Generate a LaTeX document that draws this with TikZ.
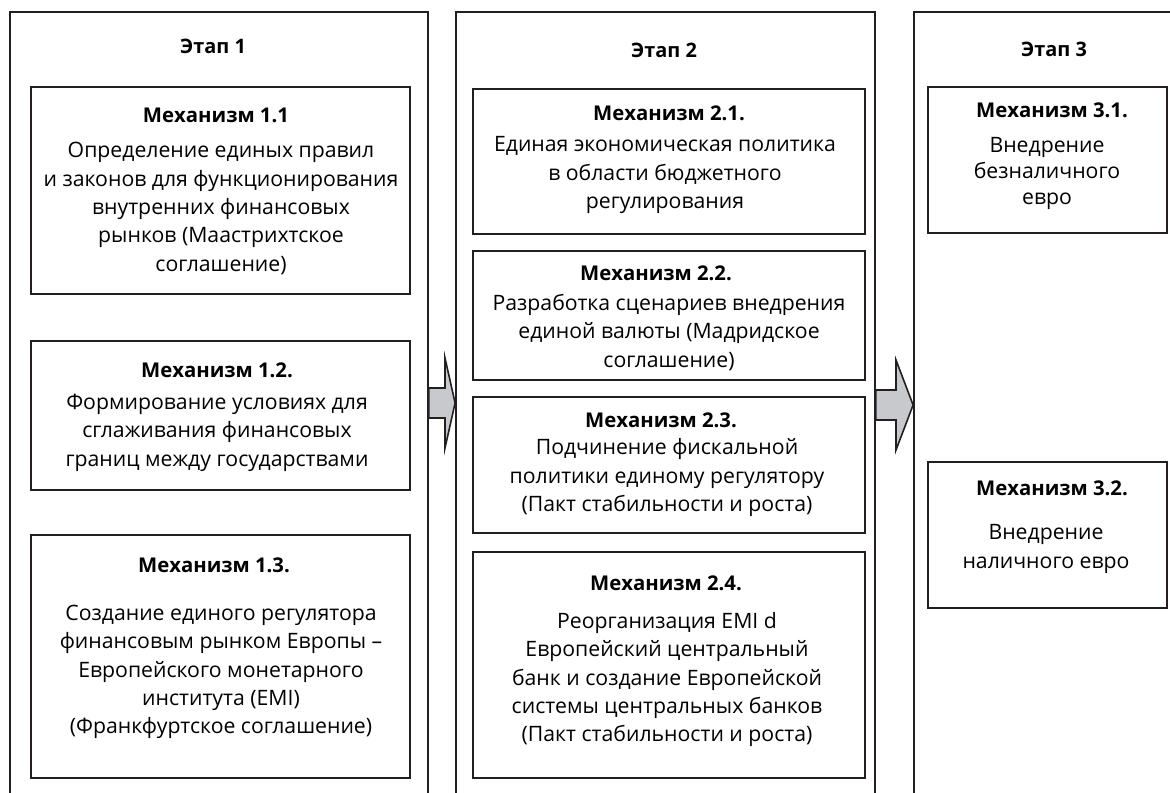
\documentclass[tikz,border=0pt]{standalone}
\usepackage{fontspec}
\setmainfont{Open Sans}
\usetikzlibrary{positioning,shadows}
\definecolor{arrowgray}{RGB}{200,201,204}
\definecolor{shadowgray}{RGB}{150,150,150}
\definecolor{linegray}{RGB}{35,31,32}

\newcommand{\diagfont}{\fontsize{21.3}{28.5}\selectfont}

\tikzset{
  stagebox/.style={draw=linegray, line width=1.8bp, inner sep=0pt},
  mechbox/.style={draw=linegray, line width=1.5bp, fill=white, inner sep=0pt,
    drop shadow={shadow xshift=0.8bp, shadow yshift=-1.2bp,
                 fill=shadowgray, opacity=0.8}},
  stagetitle/.style={font=\fontsize{20}{24}\selectfont\bfseries},
  mechtitle/.style={font=\fontsize{20.4}{24}\selectfont\bfseries},
  mechtext/.style={align=center, inner sep=0pt},
  stagearrow/.style={draw=linegray, line width=1.6bp, fill=arrowgray,
    line join=miter}
}

% block arrow: from stage, to stage, head base x, mid y
\newcommand{\stagearrow}[4]{%
  \pgfmathsetmacro{\ya}{#4-45}\pgfmathsetmacro{\yb}{#4-15}%
  \pgfmathsetmacro{\yc}{#4+15}\pgfmathsetmacro{\yd}{#4+45}%
  \draw[stagearrow] (#1.east |- 0,\yb) -- (#3,\yb) -- (#3,\ya)
    -- (#2.west |- 0,#4) -- (#3,\yd) -- (#3,\yc)
    -- (#1.east |- 0,\yc) -- cycle;
}

\begin{document}
\begin{tikzpicture}[x=1bp, y=-1bp, font=\diagfont]
  \clip (0,0) rectangle (1170,793);
  \fill[white] (0,0) rectangle (1170,793);

  % stage frames
  \node[stagebox, minimum width=418bp, minimum height=798bp] (stage1) at (219,411) {};
  \node[stagebox, minimum width=419bp, minimum height=798bp] (stage2) at (665.5,411) {};
  \node[stagebox, minimum width=280bp, minimum height=798bp] (stage3) at (1054,411) {};

  \node[stagetitle] (st1) at (213,46) {Этап 1};
  \node[stagetitle] (st2) at (664,50) {Этап 2};
  \node[stagetitle] (st3) at (1054,49) {Этап 3};

  % mechanism boxes
  \foreach \nm/\cx/\cy/\w/\h in {m11/220.5/190.5/379/207, m12/220.5/415.5/379/149,
      m13/220.5/656.5/379/243, m21/669/161.5/392/145, m22/669/315.5/392/129,
      m23/669/465/392/136, m24/669/665/392/226, m31/1047.5/160/239/146,
      m32/1047.5/535/239/146}{
    \node[mechbox, minimum width=\w bp, minimum height=\h bp] (\nm) at (\cx,\cy) {};
  }

  % titles
  \foreach \nm/\x/\y/\t in {t11/216/115/1.1, t12/217/370/1.2., t13/214/565/1.3.,
      t21/669/113/2.1., t22/656/273/2.2., t23/661/420/2.3., t24/666/583/2.4.,
      t31/1052/110/3.1., t32/1052/488/3.2.}{
    \node[mechtitle] (\nm) at (\x,\y) {Механизм \t};
  }

  % descriptions
  \node[mechtext] (b11) at (221,208.5) {Определение единых правил\\и законов для функционирования\\внутренних финансовых\\рынков (Маастрихтское\\соглашение)};
  \node[mechtext] (b12) at (217,432.5) {Формирование условиях для\\сглаживания финансовых\\границ между государствами};
  \node[mechtext] (b13) at (221,672) {Создание единого регулятора\\финансовым рынком Европы –\\Европейского монетарного\\института (EMI)\\(Франкфуртское соглашение)};
  \node[mechtext] (b21) at (665,175) {Единая экономическая политика\\в области бюджетного\\регулирования};
  \node[mechtext] (b22) at (669,332.5) {Разработка сценариев внедрения\\единой валюты (Мадридское\\соглашение)};
  \node[mechtext] (b23) at (667,477.5) {Подчинение фискальной\\политики единому регулятору\\(Пакт стабильности и роста)};
  \node[mechtext] (b24) at (667,679.5) {Реорганизация EMI d\\Европейский центральный\\банк и создание Европейской\\системы центральных банков\\(Пакт стабильности и роста)};
  \node[mechtext, font=\fontsize{21.3}{26.5}\selectfont] (b31) at (1047,173.5) {Внедрение\\безналичного\\евро};
  \node[mechtext] (b32) at (1046,549) {Внедрение\\наличного евро};

  % arrows between stages
  \stagearrow{stage1}{stage2}{445}{403}
  \stagearrow{stage2}{stage3}{896}{405}
\end{tikzpicture}
\end{document}
